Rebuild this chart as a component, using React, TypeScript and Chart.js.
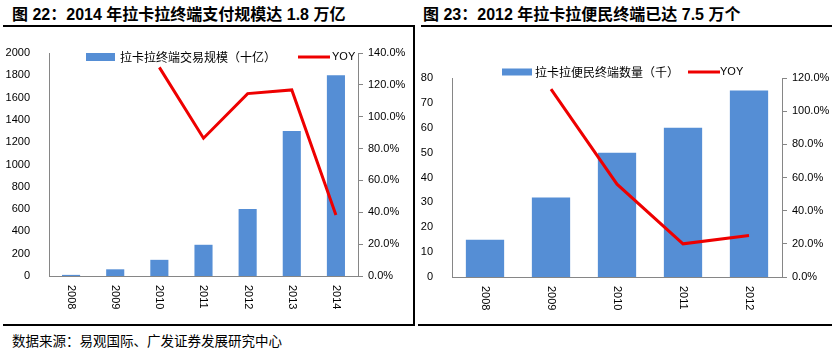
import React, { useEffect, useRef } from "react";
import { Chart, registerables } from "chart.js";

Chart.register(...registerables);

// ---------- data ----------
const years1 = ["2008", "2009", "2010", "2011", "2012", "2013", "2014"];
const volume1 = [10, 60, 145, 280, 600, 1300, 1800];
const yoy1 = [null, null, 131, 86.5, 114.5, 116.8, 38.3];

const years2 = ["2008", "2009", "2010", "2011", "2012"];
const terminals2 = [15, 32, 50, 60, 75];
const yoy2 = [null, 113.3, 56, 20, 25];

const barLabel1 = "拉卡拉终端交易规模（十亿）";
const barLabel2 = "拉卡拉便民终端数量（千）";
const yoyLabel = "YOY";
const title1 = "图 22：2014 年拉卡拉终端支付规模达 1.8 万亿";
const title2 = "图 23：2012 年拉卡拉便民终端已达 7.5 万个";
const sourceText = "数据来源：易观国际、广发证券发展研究中心";

// ---------- styles ----------
const BLUE = "#558ED5";
const RED = "#EE0000";
const AXIS = "#868686";
const LATIN = "'Liberation Sans', Arial, sans-serif";
const CJK = "'Noto Sans CJK SC', 'Liberation Sans', sans-serif";

const overlayPlugin = {
  id: "overlay",
  afterDraw(chart: any, _args: any, opts: any) {
    const ctx = chart.ctx;
    const xs = chart.scales.x;
    ctx.save();
    ctx.fillStyle = "#000";
    ctx.font = `11px ${LATIN}`;
    ctx.textAlign = "left";
    ctx.textBaseline = "middle";
    const labels = chart.data.labels as string[];
    labels.forEach((lab, i) => {
      ctx.save();
      ctx.translate(xs.getPixelForValue(i), chart.chartArea.bottom + 9);
      ctx.rotate(Math.PI / 2);
      ctx.fillText(lab, 0, 0);
      ctx.restore();
    });
    // legend
    const L = opts.legend;
    if (L) {
      const ds0 = chart.data.datasets[0];
      const ds1 = chart.data.datasets[1];
      ctx.fillStyle = ds0.backgroundColor;
      ctx.fillRect(L.boxX, L.y - L.boxH / 2, L.boxW, L.boxH);
      ctx.fillStyle = "#000";
      ctx.font = `12px ${CJK}`;
      ctx.fillText(ds0.label, L.textX, L.y);
      ctx.strokeStyle = ds1.borderColor;
      ctx.lineWidth = 3;
      ctx.beginPath();
      ctx.moveTo(L.lineX, L.y);
      ctx.lineTo(L.lineX + L.lineW, L.y);
      ctx.stroke();
      ctx.font = `11px ${LATIN}`;
      ctx.fillText(ds1.label, L.yoyX, L.y);
    }
    ctx.restore();
  },
};

type PanelProps = {
  labels: string[];
  bars: number[];
  yoy: (number | null)[];
  barLabel: string;
  left: { max: number; step: number; width: number };
  right: { max: number; step: number; width: number };
  padTop: number;
  xHeight: number;
  barPct: number;
  legend: any;
  width: number;
  height: number;
};

function ChartPanel(p: PanelProps) {
  const ref = useRef<HTMLCanvasElement | null>(null);
  useEffect(() => {
    if (!ref.current) return;
    const chart = new Chart(ref.current, {
      type: "bar",
      data: {
        labels: p.labels,
        datasets: [
          {
            type: "bar",
            label: p.barLabel,
            data: p.bars,
            backgroundColor: BLUE,
            barPercentage: p.barPct,
            categoryPercentage: 1,
            yAxisID: "y",
            order: 2,
          } as any,
          {
            type: "line",
            label: yoyLabel,
            data: p.yoy,
            borderColor: RED,
            backgroundColor: RED,
            borderWidth: 3,
            pointRadius: 0,
            tension: 0,
            yAxisID: "y1",
            order: 1,
          } as any,
        ],
      },
      options: {
        animation: false,
        responsive: false,
        maintainAspectRatio: false,
        layout: { padding: { top: p.padTop, left: 0, right: 0, bottom: 0 } },
        plugins: {
          legend: { display: false },
          tooltip: { enabled: false },
          overlay: { legend: p.legend },
        } as any,
        scales: {
          x: {
            grid: { display: false },
            border: { display: true, color: AXIS, width: 1 },
            ticks: { display: false },
            afterFit: (s: any) => {
              s.height = p.xHeight;
            },
          },
          y: {
            position: "left",
            min: 0,
            max: p.left.max,
            grid: { display: false },
            border: { display: true, color: AXIS, width: 1 },
            ticks: {
              stepSize: p.left.step,
              padding: 11,
              color: "#000",
              font: { family: LATIN, size: 11 },
              callback: (v: any) => String(v),
            },
            afterFit: (s: any) => {
              s.width = p.left.width;
            },
          },
          y1: {
            position: "right",
            min: 0,
            max: p.right.max,
            grid: {
              drawOnChartArea: false,
              drawTicks: true,
              tickLength: 5,
              color: AXIS,
            },
            border: { display: true, color: AXIS, width: 1 },
            ticks: {
              stepSize: p.right.step,
              padding: 5,
              color: "#000",
              font: { family: LATIN, size: 11 },
              callback: (v: any) => Number(v).toFixed(1) + "%",
            },
            afterFit: (s: any) => {
              s.width = p.right.width;
            },
          },
        },
      } as any,
      plugins: [overlayPlugin],
    });
    return () => chart.destroy();
  }, []);
  return (
    <canvas
      ref={ref}
      width={p.width}
      height={p.height}
      style={{ width: p.width, height: p.height, display: "block" }}
    />
  );
}

export default function App() {
  const line = (s: React.CSSProperties): React.CSSProperties => ({
    position: "absolute",
    background: "#000",
    ...s,
  });
  const titleStyle: React.CSSProperties = {
    position: "absolute",
    top: 4,
    font: `bold 16px ${"'Liberation Sans', 'Noto Sans CJK SC', sans-serif"}`,
    lineHeight: "22px",
    color: "#000",
    whiteSpace: "nowrap",
  };
  return (
    <div
      style={{
        position: "fixed",
        left: 0,
        top: 0,
        width: 832,
        height: 355,
        background: "#fff",
        overflow: "hidden",
      }}
    >
      <div style={{ ...titleStyle, left: 12 }}>{title1}</div>
      <div style={{ ...titleStyle, left: 423 }}>{title2}</div>

      <div style={line({ left: 3, top: 25, width: 412, height: 2 })} />
      <div style={line({ left: 421, top: 25, width: 411, height: 2 })} />
      <div style={line({ left: 413, top: 25, width: 2, height: 301 })} />
      <div style={line({ left: 3, top: 324, width: 412, height: 2 })} />
      <div style={line({ left: 418, top: 324, width: 414, height: 2 })} />

      <div style={{ position: "absolute", left: 0, top: 28 }}>
        <ChartPanel
          labels={years1}
          bars={volume1}
          yoy={yoy1}
          barLabel={barLabel1}
          left={{ max: 2000, step: 200, width: 49 }}
          right={{ max: 140, step: 20, width: 52 }}
          padTop={25}
          xHeight={48}
          barPct={0.41}
          legend={{ boxX: 86, boxW: 29, boxH: 8, y: 29, textX: 120, lineX: 298, lineW: 32, yoyX: 332 }}
          width={410}
          height={296}
        />
      </div>
      <div style={{ position: "absolute", left: 418, top: 28 }}>
        <ChartPanel
          labels={years2}
          bars={terminals2}
          yoy={yoy2}
          barLabel={barLabel2}
          left={{ max: 80, step: 10, width: 34 }}
          right={{ max: 120, step: 20, width: 50 }}
          padTop={50}
          xHeight={47}
          barPct={0.58}
          legend={{ boxX: 84, boxW: 30, boxH: 7, y: 44, textX: 117, lineX: 270, lineW: 32, yoyX: 302 }}
          width={414}
          height={296}
        />
      </div>

      <div
        style={{
          position: "absolute",
          left: 12,
          top: 331,
          font: `13.5px ${CJK}`,
          lineHeight: "18px",
          color: "#000",
          whiteSpace: "nowrap",
        }}
      >
        {sourceText}
      </div>
    </div>
  );
}
